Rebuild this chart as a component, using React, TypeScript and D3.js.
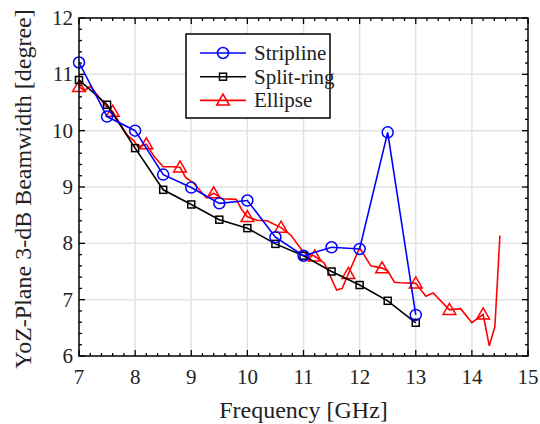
import React, { useEffect, useRef } from "react";
import * as d3 from "d3";

const stripFreq = [7, 7.5, 8, 8.5, 9, 9.5, 10, 10.5, 11, 11.5, 12, 12.5, 13];
const stripValues = [11.21, 10.25, 10.0, 9.22, 8.99, 8.71, 8.76, 8.11, 7.78, 7.93, 7.9, 9.97, 6.73];

const splitFreq = [7, 7.5, 8, 8.5, 9, 9.5, 10, 10.5, 11, 11.5, 12, 12.5, 13];
const splitValues = [10.9, 10.46, 9.69, 8.95, 8.69, 8.42, 8.27, 7.99, 7.78, 7.5, 7.26, 6.98, 6.59];

const ellipseFreq = [
  7.0, 7.1, 7.2, 7.33, 7.48, 7.6, 7.71, 7.86, 7.98, 8.05, 8.2, 8.34, 8.5, 8.67, 8.8,
  8.9, 9.04, 9.27, 9.4, 9.55, 9.8, 9.9, 10.0, 10.17, 10.35, 10.6, 10.78, 11.0, 11.2,
  11.37, 11.59, 11.69, 11.8, 12.0, 12.2, 12.4, 12.5, 12.62, 12.73, 13.0, 13.18, 13.31,
  13.6, 13.8, 14.0, 14.2, 14.31, 14.41, 14.5,
];
const ellipseValues = [
  10.78, 10.71, 10.79, 10.63, 10.44, 10.34, 10.16, 9.92, 9.82, 9.71, 9.76, 9.54, 9.36, 9.36, 9.35,
  9.17, 9.07, 8.81, 8.89, 8.79, 8.78, 8.6, 8.47, 8.41, 8.4, 8.28, 8.14, 7.84, 7.77,
  7.65, 7.17, 7.2, 7.46, 7.92, 7.6, 7.56, 7.51, 7.31, 7.3, 7.29, 7.06, 7.12,
  6.82, 6.84, 6.59, 6.74, 6.18, 6.52, 8.14,
];
const ellipseMarkerFreq = [7.0, 7.6, 8.2, 8.8, 9.4, 10.0, 10.6, 11.2, 11.8, 12.4, 13.0, 13.6, 14.2];

const xTicks = [7, 8, 9, 10, 11, 12, 13, 14, 15];
const yTicks = [6, 7, 8, 9, 10, 11, 12];
const legendLabels = ["Stripline", "Split-ring", "Ellipse"];

const FONT = "'Liberation Serif', 'Times New Roman', serif";

export default function App() {
  const svgRef = useRef<SVGSVGElement | null>(null);

  useEffect(() => {
    const w = 540;
    const h = 424;
    const m = { left: 79, right: 12, top: 18, bottom: 68 };
    const svg = d3.select(svgRef.current).attr("width", w).attr("height", h);
    svg.selectAll("*").remove();

    const x = d3.scaleLinear().domain([7, 15]).range([m.left, w - m.right]);
    const y = d3.scaleLinear().domain([6, 12]).range([h - m.bottom, m.top]);
    const [x0, x1] = x.range();
    const [y0, y1] = y.range();

    // grid
    const grid = svg.append("g").attr("stroke", "#e3e3e3").attr("stroke-width", 1.5);
    xTicks.slice(1, -1).forEach((t) => {
      grid.append("line").attr("x1", x(t)).attr("x2", x(t)).attr("y1", y0).attr("y2", y1);
    });
    yTicks.slice(1, -1).forEach((t) => {
      grid.append("line").attr("x1", x0).attr("x2", x1).attr("y1", y(t)).attr("y2", y(t));
    });

    // ticks (inside, all four sides)
    const ticks = svg.append("g").attr("stroke", "#000").attr("stroke-width", 1.3);
    const xMinor = d3.range(7, 15.001, 0.2);
    const yMinor = d3.range(6, 12.001, 0.2);
    xMinor.forEach((t) => {
      const major = Math.abs(t - Math.round(t)) < 1e-6;
      const len = major ? 6 : 3;
      ticks.append("line").attr("x1", x(t)).attr("x2", x(t)).attr("y1", y0).attr("y2", y0 - len);
      ticks.append("line").attr("x1", x(t)).attr("x2", x(t)).attr("y1", y1).attr("y2", y1 + len);
    });
    yMinor.forEach((t) => {
      const major = Math.abs(t - Math.round(t)) < 1e-6;
      const len = major ? 6 : 3;
      ticks.append("line").attr("x1", x0).attr("x2", x0 + len).attr("y1", y(t)).attr("y2", y(t));
      ticks.append("line").attr("x1", x1).attr("x2", x1 - len).attr("y1", y(t)).attr("y2", y(t));
    });

    // tick labels
    svg
      .append("g")
      .selectAll("text")
      .data(xTicks)
      .join("text")
      .attr("x", (d) => x(d))
      .attr("y", y0 + 28)
      .attr("text-anchor", "middle")
      .attr("font-family", FONT)
      .attr("font-size", 21)
      .attr("fill", "#222")
      .text((d) => d);
    svg
      .append("g")
      .selectAll("text")
      .data(yTicks)
      .join("text")
      .attr("x", x0 - 6)
      .attr("y", (d) => y(d) + 7)
      .attr("text-anchor", "end")
      .attr("font-family", FONT)
      .attr("font-size", 21)
      .attr("fill", "#222")
      .text((d) => d);

    // axis titles
    svg
      .append("text")
      .attr("x", (x0 + x1) / 2)
      .attr("y", h - 6)
      .attr("text-anchor", "middle")
      .attr("font-family", FONT)
      .attr("font-size", 24)
      .attr("fill", "#222")
      .text("Frequency [GHz]");
    svg
      .append("text")
      .attr("transform", `translate(31,${(y0 + y1) / 2 + 2}) rotate(-90)`)
      .attr("text-anchor", "middle")
      .attr("font-family", FONT)
      .attr("font-size", 24)
      .attr("fill", "#222")
      .text("YoZ-Plane 3-dB Beamwidth [degree]");

    const line = d3
      .line<[number, number]>()
      .x((d) => x(d[0]))
      .y((d) => y(d[1]));

    const stripData = stripFreq.map((f, i) => [f, stripValues[i]] as [number, number]);
    const splitData = splitFreq.map((f, i) => [f, splitValues[i]] as [number, number]);
    const ellData = ellipseFreq.map((f, i) => [f, ellipseValues[i]] as [number, number]);
    const ellMarkers = ellData.filter((d) => ellipseMarkerFreq.some((f) => Math.abs(f - d[0]) < 1e-6));

    const tri = d3.symbol().type(d3.symbolTriangle).size(70);

    const drawMarker = (g: any, cx: number, cy: number, color: string, kind: string) => {
      if (kind === "circle") {
        g.append("circle")
          .attr("cx", cx)
          .attr("cy", cy)
          .attr("r", 5.5)
          .attr("fill", "none")
          .attr("stroke", color)
          .attr("stroke-width", 1.5);
      } else if (kind === "square") {
        g.append("rect")
          .attr("x", cx - 3.5)
          .attr("y", cy - 3.5)
          .attr("width", 7)
          .attr("height", 7)
          .attr("fill", "none")
          .attr("stroke", color)
          .attr("stroke-width", 1.5);
      } else {
        g.append("path")
          .attr("d", tri())
          .attr("transform", `translate(${cx},${cy + 1})`)
          .attr("fill", "none")
          .attr("stroke", color)
          .attr("stroke-width", 1.5);
      }
    };

    const drawSeries = (
      data: [number, number][],
      markers: [number, number][],
      color: string,
      kind: string
    ) => {
      const g = svg.append("g");
      g.append("path")
        .attr("d", line(data))
        .attr("fill", "none")
        .attr("stroke", color)
        .attr("stroke-width", 1.6);
      markers.forEach((d) => drawMarker(g, x(d[0]), y(d[1]), color, kind));
    };

    drawSeries(ellData, ellMarkers, "#ff0000", "triangle");
    drawSeries(splitData, splitData, "#000000", "square");
    drawSeries(stripData, stripData, "#0000ff", "circle");

    // frame
    svg
      .append("rect")
      .attr("x", x0)
      .attr("y", y1)
      .attr("width", x1 - x0)
      .attr("height", y0 - y1)
      .attr("fill", "none")
      .attr("stroke", "#000")
      .attr("stroke-width", 1.5);

    // legend
    const lg = svg.append("g");
    lg.append("rect")
      .attr("x", 186)
      .attr("y", 34)
      .attr("width", 144)
      .attr("height", 84)
      .attr("fill", "#fff")
      .attr("stroke", "#000")
      .attr("stroke-width", 1.5);
    const colors = ["#0000ff", "#000000", "#ff0000"];
    const kinds = ["circle", "square", "triangle"];
    legendLabels.forEach((label, i) => {
      const ly = 53 + i * 23.7;
      lg.append("line")
        .attr("x1", 200)
        .attr("x2", 246)
        .attr("y1", ly)
        .attr("y2", ly)
        .attr("stroke", colors[i])
        .attr("stroke-width", 1.6);
      drawMarker(lg, 223, ly, colors[i], kinds[i]);
      lg.append("text")
        .attr("x", 254)
        .attr("y", ly + 7)
        .attr("font-family", FONT)
        .attr("font-size", 21)
        .attr("fill", "#222")
        .text(label);
    });
  }, []);

  return (
    <div>
      <svg ref={svgRef} style={{ position: "absolute", left: 0, top: 0 }}></svg>
    </div>
  );
}
